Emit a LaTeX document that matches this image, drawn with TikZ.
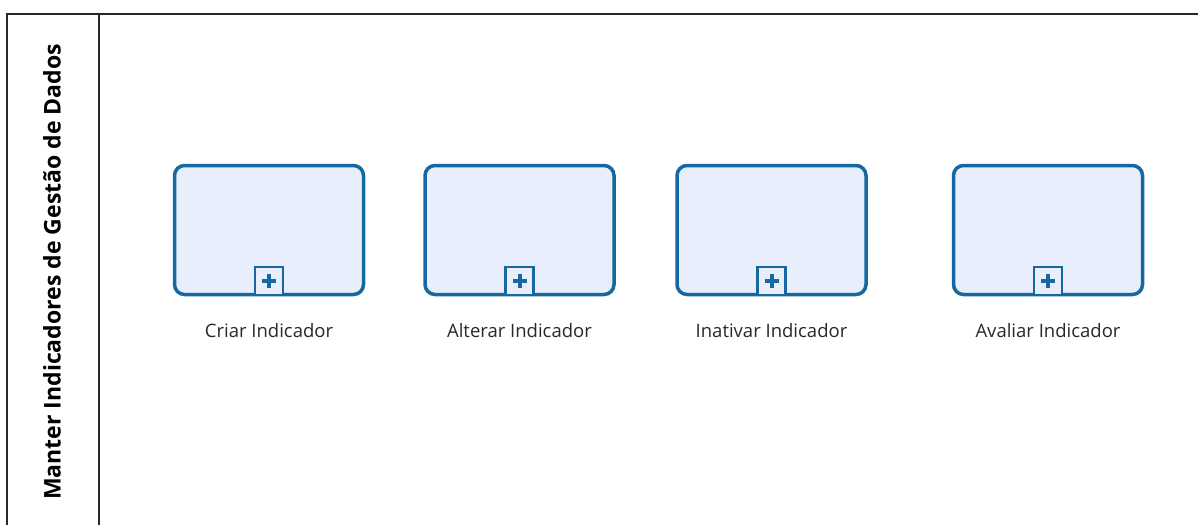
\documentclass[tikz,border=0pt]{standalone}
\usepackage{fontspec}
\setmainfont{Open Sans}
\usetikzlibrary{positioning}
\definecolor{taskblue}{RGB}{22,104,160}
\definecolor{taskfill}{RGB}{232,238,252}
\definecolor{framegrey}{RGB}{40,40,40}
\definecolor{labelgrey}{RGB}{40,40,40}
\tikzset{
  task/.style={draw=taskblue, fill=taskfill, line width=3.5pt, rounded corners=10pt,
    minimum width=189pt, minimum height=129pt, inner sep=0pt},
  marker/.style={draw=taskblue, fill=taskfill, line width=2.5pt,
    minimum width=28pt, minimum height=28pt, inner sep=0pt},
  tasklabel/.style={text=labelgrey, font=\fontsize{18.5}{22}\selectfont}
}
\begin{document}
\begin{tikzpicture}[x=1pt, y=-1pt]
    \useasboundingbox (0,0) rectangle (1198,525);
    % pool frame
    \coordinate (tl) at (7,14);
    \coordinate (tr) at (1198,14);
    \coordinate (bl) at (7,525);
    \coordinate (dt) at (99,14);
    \coordinate (db) at (99,525);
    \draw[framegrey, line width=2pt] (bl) -- (tl) -- (tr);
    \draw[framegrey, line width=1.5pt] (dt) -- (db);
    % lane label
    \node[rotate=90, font=\bfseries\fontsize{23}{27}\selectfont] (lane) at (52,272)
      {Manter Indicadores de Gestão de Dados};
    % loop over the sub-processes
    \foreach \x/\name/\txt in {269/criar/Criar Indicador,
                               519.5/alterar/Alterar Indicador,
                               771.5/inativar/Inativar Indicador,
                               1048/avaliar/Avaliar Indicador}{
      \node[task] (\name) at (\x,230) {};
      \node[marker, anchor=south] (\name-mark) at (\name.south) {};
      \draw[taskblue, line width=4pt] ([xshift=-7pt]\name-mark.center) -- ([xshift=7pt]\name-mark.center);
      \draw[taskblue, line width=4pt] ([yshift=-7pt]\name-mark.center) -- ([yshift=7pt]\name-mark.center);
      \node[tasklabel, below=24pt of \name] (\name-lbl) {\txt};
    };
\end{tikzpicture}
\end{document}
